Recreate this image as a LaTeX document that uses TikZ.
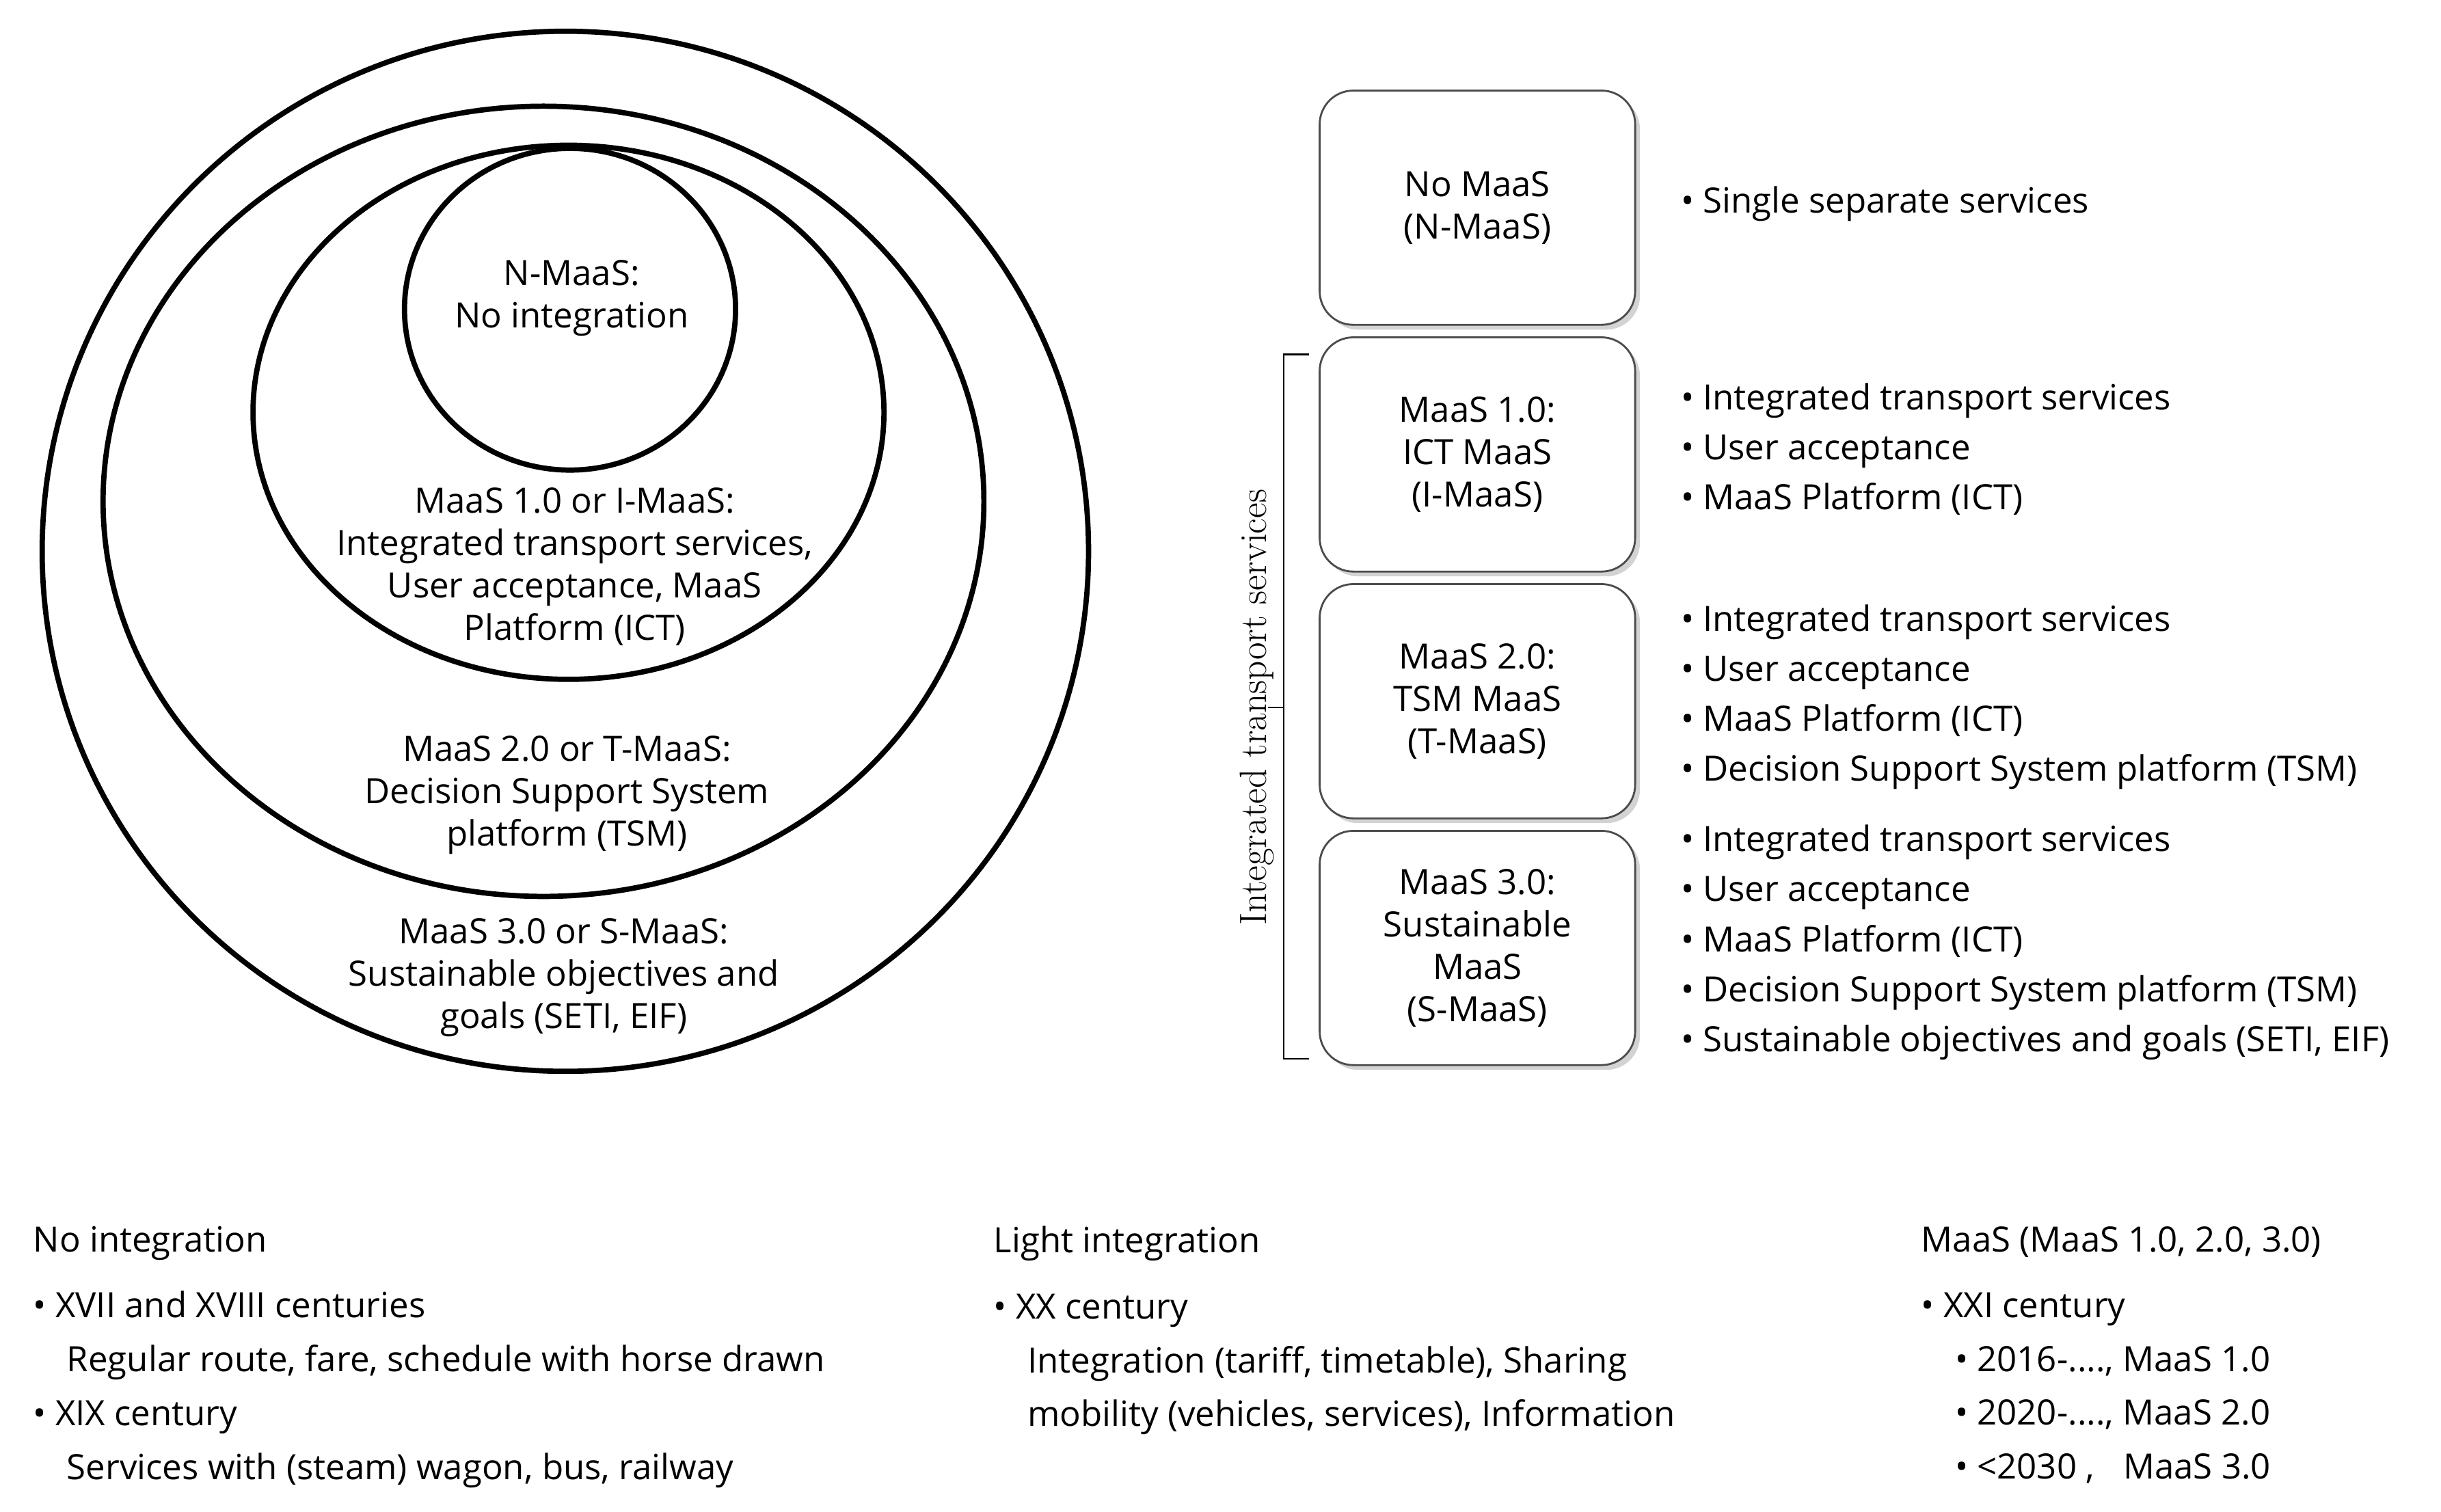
\documentclass[tikz,border=0pt]{standalone}
\usepackage{fontspec}
\setmainfont{Open Sans}
\usetikzlibrary{shadows}
\begin{document}
\begin{tikzpicture}[x=0.02285cm,y=-0.02285cm,
  ring/.style={draw,line width=2.2pt},
  txt/.style={align=center,font=\fontsize{14.5}{17.6}\selectfont,inner sep=0},
  box/.style={draw=black!70,line width=0.8pt,rounded corners=14pt,minimum width=202*0.02285cm,minimum height=150*0.02285cm,fill=white,drop shadow={shadow xshift=2pt,shadow yshift=-2pt,opacity=0.35},align=center,font=\fontsize{14.5}{17.6}\selectfont},
  lst/.style={anchor=north west,align=left,inner sep=0,font=\fontsize{14.5}{20.8}\selectfont},
  bot/.style={anchor=north west,align=left,inner sep=0,font=\fontsize{14.5}{22.4}\selectfont}]
\useasboundingbox (0,0) rectangle (1563,968);
\draw[ring] (362,353) ellipse (335 and 333);
\draw[ring] (348,321) ellipse (282 and 253);
\draw[ring] (364,264) ellipse (202 and 171);
\draw[ring] (365,198) ellipse (106 and 103);
\node[txt] (t0) at (366,191) {N-MaaS:\\No integration};
\node[txt] (t1) at (368,363) {MaaS 1.0 or I-MaaS:\\Integrated transport services,\\User acceptance, MaaS\\Platform (ICT)};
\node[txt] (t2) at (363,509) {MaaS 2.0 or T-MaaS:\\Decision Support System\\platform (TSM)};
\node[txt] (t3) at (361,626) {MaaS 3.0 or S-MaaS:\\Sustainable objectives and\\goals (SETI, EIF)};

\node[box] (b0) at (946,133) {No MaaS\\(N-MaaS)};
\node[box] (b1) at (946,291) {MaaS 1.0:\\ICT MaaS\\(I-MaaS)};
\node[box] (b2) at (946,449) {MaaS 2.0:\\TSM MaaS\\(T-MaaS)};
\node[box] (b3) at (946,607) {MaaS 3.0:\\Sustainable\\MaaS\\(S-MaaS)};

\node[lst] (l0) at (1076,119) {• Single separate services};
\node[lst] (l1) at (1076,245) {• Integrated transport services\\• User acceptance\\• MaaS Platform (ICT)};
\node[lst] (l2) at (1076,387) {• Integrated transport services\\• User acceptance\\• MaaS Platform (ICT)\\• Decision Support System platform (TSM)};
\node[lst] (l3) at (1076,528) {• Integrated transport services\\• User acceptance\\• MaaS Platform (ICT)\\• Decision Support System platform (TSM)\\• Sustainable objectives and goals (SETI, EIF)};

\coordinate (bt) at (822,227);
\coordinate (bb) at (822,678);
\draw[line width=0.8pt] (838,227) -- (bt) -- (bb) -- (838,678);
\coordinate (bm) at (822,453);
\draw[line width=0.8pt] (bm) -- (812,453);
\node[rotate=90,inner sep=0,font=\fontfamily{lmr}\fontsize{15.8}{17}\selectfont] (bl) at (805,453) {Integrated transport services};

\node[bot] (c1) at (21,785) {No integration\\[5pt]
• XVII and XVIII centuries\\
\hspace*{14pt}Regular route, fare, schedule with horse drawn\\
• XIX century\\
\hspace*{14pt}Services with (steam) wagon, bus, railway};
\node[bot] (c2) at (636,785) {Light integration\\[5pt]
• XX century\\
\hspace*{14pt}Integration (tariff, timetable), Sharing\\
\hspace*{14pt}mobility (vehicles, services), Information};
\node[bot] (c3) at (1230,785) {MaaS (MaaS 1.0, 2.0, 3.0)\\[5pt]
• XXI century\\
\hspace*{14pt}• 2016-...., MaaS 1.0\\
\hspace*{14pt}• 2020-...., MaaS 2.0\\
\hspace*{14pt}• <2030 ,\hspace{12pt}MaaS 3.0};
\end{tikzpicture}
\end{document}
